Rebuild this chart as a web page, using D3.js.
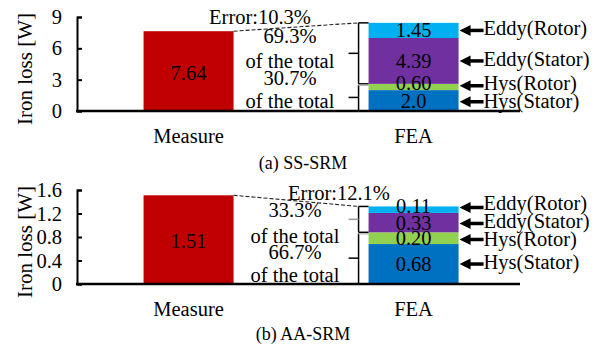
<!DOCTYPE html>
<html><head><meta charset="utf-8">
<script src="https://cdn.jsdelivr.net/npm/d3@7"></script>
<style>
body{margin:0;background:#fff}
svg{display:block}
text{font-family:"Liberation Serif","Times New Roman",serif;fill:#000}
</style>
</head><body><svg id="c" width="603" height="345"></svg>
<script>
// ---- data ----
const categories = ["Measure", "FEA"];
const components = ["Hys(Stator)", "Hys(Rotor)", "Eddy(Stator)", "Eddy(Rotor)"];
const yTitle = "Iron loss [W]";
const shareSuffix = "of the total";

const measureA = 7.64;
const feaA = [2.0, 0.60, 4.39, 1.45];
const feaLabelsA = ["2.0", "0.60", "4.39", "1.45"];
const ticksA = [0, 3, 6, 9];
const errorA = "Error:10.3%";
const shareA = ["69.3%", "30.7%"];
const captionA = "(a) SS-SRM";

const measureB = 1.51;
const feaB = [0.68, 0.20, 0.33, 0.11];
const feaLabelsB = ["0.68", "0.20", "0.33", "0.11"];
const ticksB = [0, 0.4, 0.8, 1.2, 1.6];
const errorB = "Error:12.1%";
const shareB = ["33.3%", "66.7%"];
const captionB = "(b) AA-SRM";

// ---- styles ----
const segColors = ["#0070C0", "#92D050", "#7030A0", "#00B0F0"];
const measureColor = "#C00000";
const FS = 20.5;

const svg = d3.select("#c");

function relax(arr, key, minGap) {
  const s = arr.slice().sort((a, b) => a[key] - b[key]);
  for (let k = 0; k < 6; k++) {
    for (let j = 1; j < s.length; j++) {
      const gap = s[j][key] - s[j - 1][key];
      if (gap < minGap) { const p = (minGap - gap) / 2; s[j][key] += p; s[j - 1][key] -= p; }
    }
  }
}

function panel(cfg) {
  const g = svg.append("g");
  const x = d3.scaleBand().domain(categories).range([77, 520])
    .paddingInner(0.6).paddingOuter(0.2844).align(0.52);
  const y = d3.scaleLinear().domain([0, d3.max(cfg.ticks)]).range(cfg.yRange);
  const bw = x.bandwidth();

  // measure bar
  g.append("rect").attr("x", x("Measure")).attr("width", bw)
    .attr("y", y(cfg.measure)).attr("height", y(0) - y(cfg.measure))
    .attr("fill", measureColor);
  g.append("text").attr("x", x("Measure") + bw / 2)
    .attr("y", (y(cfg.measure) + y(0)) / 2).attr("dy", "0.42em")
    .attr("text-anchor", "middle").attr("font-size", FS).text(d3.format(".2f")(cfg.measure));

  // stacked FEA bar
  const cum = d3.cumsum(cfg.fea);
  const segs = cfg.fea.map((v, i) => ({v, i, y0: cum[i] - v, y1: cum[i], label: cfg.feaLabels[i]}));
  g.selectAll("rect.seg").data(segs).join("rect").attr("class", "seg")
    .attr("x", x("FEA")).attr("width", bw)
    .attr("y", d => y(d.y1)).attr("height", d => y(d.y0) - y(d.y1))
    .attr("fill", d => segColors[d.i]);
  g.selectAll("text.seg").data(segs).join("text").attr("class", "seg")
    .attr("x", x("FEA") + bw / 2)
    .attr("y", d => { const h = y(d.y0) - y(d.y1); const m = (y(d.y0) + y(d.y1)) / 2; return m + 7 - (h < 10 ? 4 : 0); })
    .attr("text-anchor", "middle").attr("font-size", FS).text(d => d.label);

  // y axis
  const ax = d3.axisLeft(y).tickValues(cfg.ticks).tickSizeInner(-5).tickSizeOuter(-5)
    .tickPadding(15).tickFormat(d3.format("~g"));
  const ag = g.append("g").attr("transform", "translate(77,0)").call(ax);
  ag.select(".domain").attr("stroke", "#000").attr("stroke-width", 2);
  ag.selectAll(".tick line").attr("stroke", "#000").attr("stroke-width", 2);
  ag.selectAll(".tick text").attr("font-size", FS).attr("font-family", "Liberation Serif").attr("fill", "#000");
  // x axis baseline
  g.append("line").attr("x1", 76).attr("x2", 520).attr("y1", y(0)).attr("y2", y(0))
    .attr("stroke", "#000").attr("stroke-width", 2.5);
  g.selectAll("text.cat").data(categories).join("text").attr("class", "cat")
    .attr("x", d => x(d) + bw / 2).attr("y", y(0) + 32)
    .attr("text-anchor", "middle").attr("font-size", FS).text(d => d);

  // y title
  g.append("text").attr("transform", `translate(32,${(y(0) + y(d3.max(cfg.ticks))) / 2 + 5}) rotate(-90)`)
    .attr("text-anchor", "middle").attr("font-size", FS + 0.5).text(yTitle);

  // brackets
  const bx = x("FEA") - 10;
  const total = cum[cum.length - 1], hys = cum[1];
  const yt = y(total), yh = y(hys), y0 = y(0);
  const line = (x1, y1, x2, y2, c) => g.append("line").attr("x1", x1).attr("y1", y1)
    .attr("x2", x2).attr("y2", y2).attr("stroke", c || "#000").attr("stroke-width", 1.5);
  line(bx, yt, bx, yh);
  line(bx, yt, x("FEA"), yt);
  line(bx, yh, x("FEA"), yh);
  line(bx - 10, (yt + yh) / 2, bx, (yt + yh) / 2, cfg.midGray ? "#999" : "#000");
  line(bx, yh + 1, bx, y0);
  line(bx - 10, (yh + y0) / 2, bx, (yh + y0) / 2);
  line(bx, yh + 1.5, x("FEA"), yh + 1.5, "#bbb");

  // dashed error line
  g.append("line").attr("x1", x("Measure") + bw).attr("y1", y(cfg.measure))
    .attr("x2", bx).attr("y2", yt).attr("stroke", "#222").attr("stroke-width", 1.1)
    .attr("stroke-dasharray", "4,2");
  g.append("text").attr("x", cfg.errX).attr("y", cfg.errY).attr("text-anchor", "middle")
    .attr("font-size", FS).text(cfg.error);

  // share texts
  const lines = [cfg.share[0], shareSuffix, cfg.share[1], shareSuffix];
  g.selectAll("text.share").data(lines).join("text").attr("class", "share")
    .attr("x", cfg.shareX).attr("y", (d, i) => cfg.shareY[i])
    .attr("text-anchor", "middle").attr("font-size", FS).text(d => d);

  // arrow labels
  const items = segs.map(d => ({name: components[d.i], yc: (y(d.y0) + y(d.y1)) / 2}));
  relax(items, "yc", 16);
  items.forEach(it => { it.ty = it.yc + 5; });
  relax(items, "ty", 18);
  const tipX = x("FEA") + bw + 1;
  items.forEach(it => {
    g.append("path").attr("d", `M${tipX},${it.yc}L${tipX + 11},${it.yc - 5.5}L${tipX + 11},${it.yc + 5.5}Z`).attr("fill", "#000");
    g.append("line").attr("x1", tipX + 9).attr("x2", tipX + 24).attr("y1", it.yc).attr("y2", it.yc)
      .attr("stroke", "#000").attr("stroke-width", 3.5);
    g.append("text").attr("x", tipX + 24).attr("y", it.ty).attr("font-size", FS).text(it.name);
  });

  // caption
  g.append("text").attr("x", 303).attr("y", cfg.capY).attr("text-anchor", "middle")
    .attr("font-size", 18).text(cfg.caption);
}

panel({measure: measureA, fea: feaA, feaLabels: feaLabelsA, ticks: ticksA, error: errorA,
  share: shareA, caption: captionA, yRange: [111, 17], errX: 260, errY: 24,
  shareX: 290, shareY: [43, 68, 85, 108], capY: 169, midGray: false});
panel({measure: measureB, fea: feaB, feaLabels: feaLabelsB, ticks: ticksB, error: errorB,
  share: shareB, caption: captionB, yRange: [284, 190], errX: 339, errY: 200,
  shareX: 295, shareY: [217, 243, 259, 282], capY: 340, midGray: true});
</script>
</body></html>
